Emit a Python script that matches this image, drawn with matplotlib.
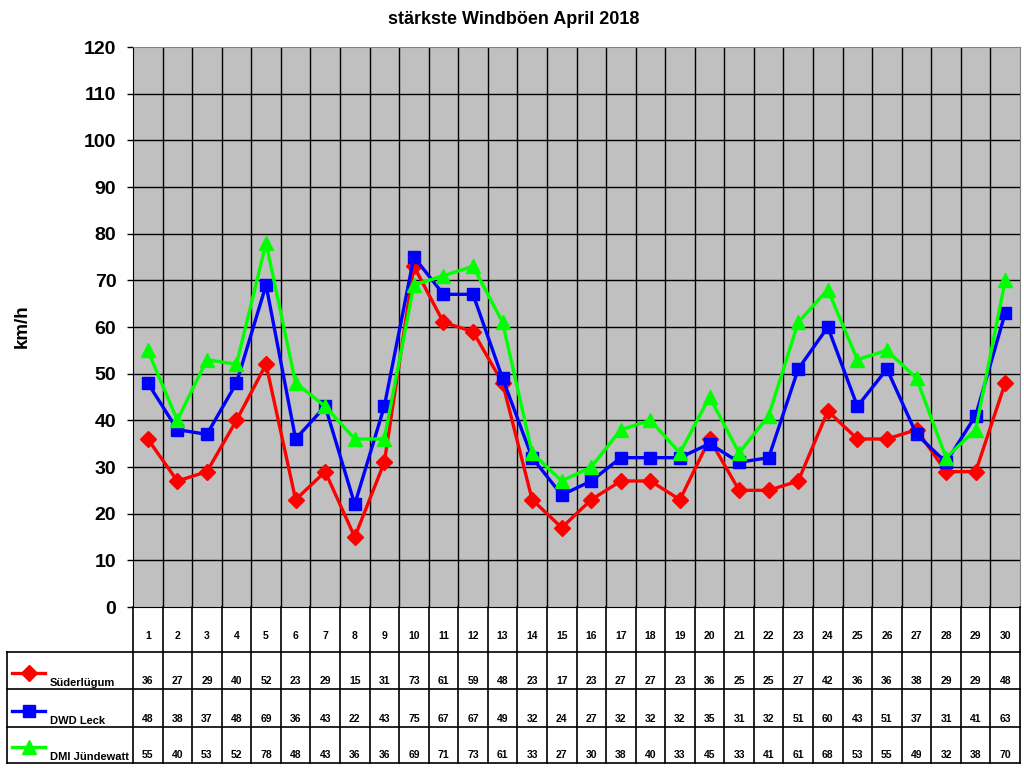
import matplotlib.pyplot as plt
import numpy as np

plt.rcParams['font.family'] = ['Liberation Sans', 'DejaVu Sans']
plt.rcParams['font.weight'] = 'bold'

# Data (km/h), April 2018
days = list(range(1, 31))
suederluegum = [36, 27, 29, 40, 52, 23, 29, 15, 31, 73, 61, 59, 48, 23, 17,
                23, 27, 27, 23, 36, 25, 25, 27, 42, 36, 36, 38, 29, 29, 48]
dwd_leck = [48, 38, 37, 48, 69, 36, 43, 22, 43, 75, 67, 67, 49, 32, 24,
            27, 32, 32, 32, 35, 31, 32, 51, 60, 43, 51, 37, 31, 41, 63]
dmi_juendewatt = [55, 40, 53, 52, 78, 48, 43, 36, 36, 69, 71, 73, 61, 33, 27,
                  30, 38, 40, 33, 45, 33, 41, 61, 68, 53, 55, 49, 32, 38, 70]

series = [
    ("Süderlügum", suederluegum, '#FF0000', 'D', 8),
    ("DWD Leck", dwd_leck, '#0000FF', 's', 8.5),
    ("DMI Jündewatt", dmi_juendewatt, '#00FF00', '^', 9.5),
]

W, H = 1024, 768
# plot area in pixels
px_l, px_r, px_t, px_b = 133, 1020, 47, 607
# table in pixels
tab_l, tab_b = 7, 763
row_lines = [652, 689, 727, 763]

fig = plt.figure(figsize=(W / 100, H / 100), dpi=100)
ax = fig.add_axes([px_l / W, 1 - px_b / H, (px_r - px_l) / W, (px_b - px_t) / H])
ax.set_facecolor('#C0C0C0')

n = len(days)
for name, vals, col, mk, ms in series:
    ax.plot(days, vals, color=col, linewidth=2.4, marker=mk, markersize=ms,
            markeredgecolor=col, markerfacecolor=col, clip_on=False)

ax.set_xlim(0.5, n + 0.5)
ax.set_ylim(0, 120)
ax.set_yticks(np.arange(0, 121, 10))
ax.set_xticks([])
for b in np.arange(1.5, n, 1):
    ax.axvline(b, color='black', linewidth=1.0, zorder=0.5)
for v in np.arange(10, 120, 10):
    ax.axhline(v, color='black', linewidth=1.0, zorder=0.5)
ax.tick_params(axis='y', direction='out', length=4, width=1, labelsize=14, pad=8)
for lbl in ax.get_yticklabels():
    lbl.set_fontweight('bold')
ax.spines['top'].set_color('#808080')
ax.spines['right'].set_color('#808080')
ax.spines['left'].set_color('black')
ax.spines['bottom'].set_color('black')

fig.text(0.502, 1 - 20 / H, "stärkste Windböen April 2018", ha='center', va='center',
         fontsize=13, fontweight='bold')
fig.text(22 / W, 1 - 326 / H, "km/h", rotation=90, ha='center', va='center',
         fontsize=13.5, fontweight='bold')

# data table below the plot
tab = fig.add_axes([0, 0, 1, 1], facecolor='none')
tab.set_xlim(0, W)
tab.set_ylim(H, 0)
tab.axis('off')
col_w = (px_r - px_l) / n
lw = 1.2
# vertical lines
for i in range(n + 1):
    x = px_l + i * col_w
    tab.plot([x, x], [px_b, tab_b], color='black', linewidth=lw)
tab.plot([tab_l, tab_l], [row_lines[0], tab_b], color='black', linewidth=lw)
tab.plot([tab_l, px_r], [row_lines[0], row_lines[0]], color='black', linewidth=lw)
for y in row_lines[1:]:
    tab.plot([tab_l, px_r], [y, y], color='black', linewidth=lw)

for i, d in enumerate(days):
    xc = px_l + (i + 0.5) * col_w
    tab.text(xc, 636, str(d), ha='center', va='center', fontsize=7.5, fontweight='bold')

for r, (name, vals, col, mk, ms) in enumerate(series):
    bottom = row_lines[r + 1]
    for i, v in enumerate(vals):
        xc = px_l + (i + 0.5) * col_w
        tab.text(xc, bottom - 8, str(v), ha='center', va='center', fontsize=7.5,
                 fontweight='bold')
    tab.plot([12, 45], [bottom - 16, bottom - 16], color=col, linewidth=2.4)
    tab.plot([28.5], [bottom - 16], marker=mk, markersize=ms, color=col,
             markeredgecolor=col)
    tab.text(50, bottom - 6, name, ha='left', va='center', fontsize=8, fontweight='bold')

fig.savefig('out.png', dpi=100)
